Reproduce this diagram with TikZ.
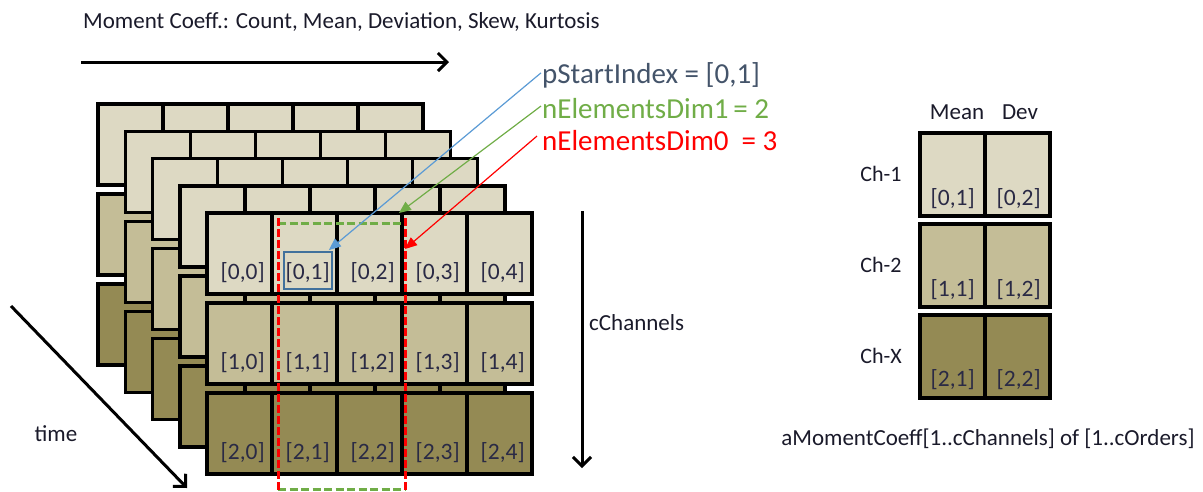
\documentclass[tikz,border=0pt]{standalone}
\usepackage{fontspec}
\setmainfont{Carlito}
\usetikzlibrary{arrows.meta}
\definecolor{tanA}{HTML}{DDD9C3}
\definecolor{tanB}{HTML}{C4BD97}
\definecolor{tanC}{HTML}{948A54}
\definecolor{txt}{HTML}{1A1A2A}
\definecolor{idx}{HTML}{2A2A45}
\definecolor{slate}{HTML}{44546A}
\definecolor{grn}{HTML}{70AD47}
\definecolor{blu}{HTML}{5B9BD5}
\definecolor{boxblue}{HTML}{41719C}
\definecolor{rd}{HTML}{FF0000}
\tikzset{
  cellbox/.style={draw=black, line width=3.5pt, line join=miter},
  idxlbl/.style={anchor=base east, inner sep=0pt, text=idx, font=\fontsize{23.5}{26}\selectfont},
  plain/.style={inner sep=0pt, text=txt, font=\fontsize{23}{26}\selectfont},
  big/.style={anchor=base west, inner sep=1pt, font=\fontsize{29}{32}\selectfont},
  bigarrow/.style={line width=3pt, -{Straight Barb[length=9pt,width=18pt,line width=3pt]}},
  pointer/.style={line width=1.2pt, -{Triangle[length=12pt,width=10pt]}}
}
\begin{document}
\begin{tikzpicture}[x=1pt,y=-1pt]
\useasboundingbox (0,0) rectangle (1203,491);
% stacked layers, back to front
\foreach \k in {4,3,2,1,0} {
  \pgfmathsetmacro{\ox}{207-27.2*\k}
  \pgfmathsetmacro{\oy}{213-27.2*\k}
  \foreach \r/\col in {0/tanA,1/tanB,2/tanC} {
    \foreach \c in {0,...,4} {
      \draw[cellbox, fill=\col] (\ox+65*\c, \oy+90*\r) rectangle ++(65,81);
    }
  }
}
% index labels of the front layer
\foreach \r in {0,1,2} {
  \foreach \c in {0,...,4} {
    \node[idxlbl] (f\r\c) at (207+65*\c+65-7, 213+90*\r+81-15) {[\r,\c]};
  }
}
% start index box
\node[draw=boxblue, line width=1.8pt, minimum width=48pt, minimum height=37pt, inner sep=0pt] (start) at (308,270.5) {};
% selection outlines
\draw[grn, line width=3pt, dash pattern=on 8pt off 3.5pt] (278,223) -- (403,223);
\draw[grn, line width=3pt, dash pattern=on 8pt off 3.5pt] (278,489) -- (405,489);
\draw[rd, line width=3pt, dash pattern=on 8pt off 3pt] (278,218) -- (278,491);
\draw[rd, line width=3pt, dash pattern=on 8pt off 3pt] (405,218) -- (405,491);
% annotation labels
\node[big, text=slate] (ps) at (541,83) {pStartIndex = [0,1]};
\node[big, text=grn] (nd1) at (541,118) {nElementsDim1\,= 2};
\node[big, text=rd] (nd0) at (541,150) {nElementsDim0~ = 3};
\coordinate (gtip) at (399,213);
\coordinate (rtip) at (405,249);
\draw[pointer, blu] ([yshift=2pt]ps.west) -- ([xshift=-4pt,yshift=1pt]start.north east);
\draw[pointer, grn] ([yshift=2pt]nd1.west) -- (gtip);
\draw[pointer, rd] ([xshift=-4pt,yshift=4pt]nd0.west) -- (rtip);
% top title and arrow
\node[plain, anchor=base west] (title) at (83,28) {Moment Coeff.: Count, Mean, Deviation, Skew, Kurtosis};
\coordinate (ta) at (81,62);
\coordinate (tb) at (449,62);
\draw[bigarrow] (ta) -- (tb);
% channels arrow
\coordinate (ca) at (582,211);
\coordinate (cb) at (582,468);
\draw[bigarrow] (ca) -- (cb);
\node[plain, anchor=west] (cch) at (589,323) {cChannels};
% time arrow
\coordinate (tma) at (11,306);
\coordinate (tmb) at (187,488);
\draw[bigarrow] (tma) -- (tmb);
\node[plain] (time) at (56,434) {time};
% right-hand result table
\node[plain, anchor=base] (mean) at (957,119) {Mean};
\node[plain, anchor=base] (dev) at (1020,119) {Dev};
\foreach \r/\col/\top/\name in {0/tanA/133/Ch-1,1/tanB/224/Ch-2,2/tanC/315/Ch-X} {
  \draw[cellbox, line width=4pt, fill=\col] (920,\top) rectangle (1050,\top+83);
  \draw[line width=3.5pt] (985,\top) -- (985,\top+83);
  \node[plain, font=\fontsize{22}{24}\selectfont] (ch\r) at (881,\top+41) {\name};
}
\node[idxlbl] (r01) at (975,205) {[0,1]};
\node[idxlbl] (r02) at (1041,205) {[0,2]};
\node[idxlbl] (r11) at (975,296) {[1,1]};
\node[idxlbl] (r12) at (1041,296) {[1,2]};
\node[idxlbl] (r21) at (975,386) {[2,1]};
\node[idxlbl] (r22) at (1041,386) {[2,2]};
\node[plain, anchor=base] (cap) at (988,445) {aMomentCoeff[1..cChannels] of [1..cOrders]};
\end{tikzpicture}
\end{document}
